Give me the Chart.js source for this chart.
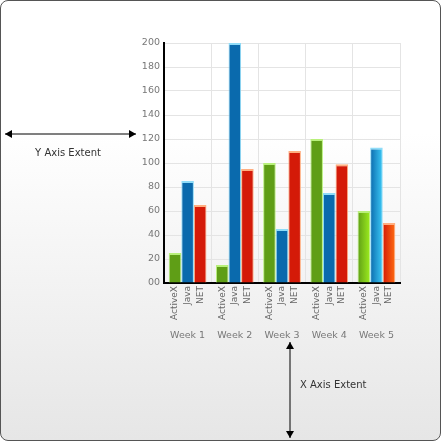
<!DOCTYPE html>
<html lang="en">
<head>
<meta charset="UTF-8">
<title>Axis Extent</title>
<script src="https://cdn.jsdelivr.net/npm/chart.js"></script>
<style>
  html, body { margin: 0; padding: 0; }
  .wrap {
    position: absolute; left: 0; top: 0; width: 439px; height: 439px;
    border: 1px solid #555; border-radius: 8px;
    background: linear-gradient(#ffffff 0%, #ffffff 30%, #e6e6e6 100%);
  }
  canvas { position: absolute; left: 0; top: 0; }
</style>
</head>
<body>
<div class="wrap"></div>
<canvas id="c" width="441" height="441"></canvas>
<script>
const weeks = ['Week 1', 'Week 2', 'Week 3', 'Week 4', 'Week 5'];
const seriesNames = ['ActiveX', 'Java', 'NET'];
const activeX = [25, 15, 100, 120, 60];
const java = [85, 200, 45, 75, 113];
const net = [65, 95, 110, 99, 50];
const yTicks = [0, 20, 40, 60, 80, 100, 120, 140, 160, 180, 200];

const shades = [
  ['#5f9e16', '#9ded1f', '#b8f07a'],
  ['#0a6aad', '#3ccaf7', '#8fdcf8'],
  ['#d41a08', '#ff6d12', '#ffae80']
];

const font = 'DejaVu Sans';

const extras = {
  id: 'extras',
  beforeDatasetsDraw(chart) {
    const c = chart.ctx;
    chart.data.datasets.forEach((ds, i) => {
      chart.getDatasetMeta(i).data.forEach(bar => {
        const g = c.createLinearGradient(bar.x - bar.width / 2, 0, bar.x + bar.width / 2, 0);
        g.addColorStop(0, shades[i][0]);
        g.addColorStop(1, shades[i][1]);
        bar.options.backgroundColor = g;
      });
    });
  },
  afterDatasetsDraw(chart) {
    const c = chart.ctx;
    c.save();
    c.fillStyle = '#666';
    c.font = '9px ' + font;
    c.textAlign = 'right';
    c.textBaseline = 'middle';
    chart.data.datasets.forEach((ds, i) => {
      chart.getDatasetMeta(i).data.forEach(bar => {
        c.save();
        c.translate(bar.x, chart.chartArea.bottom + 3);
        c.rotate(-Math.PI / 2);
        c.fillText(ds.label, 0, 0);
        c.restore();
      });
    });
    // annotations
    c.strokeStyle = '#000';
    c.fillStyle = '#000';
    c.lineWidth = 1;
    function arrowH(x1, x2, y) {
      c.beginPath(); c.moveTo(x1, y); c.lineTo(x2, y); c.stroke();
      [[x1, 1], [x2, -1]].forEach(([x, d]) => {
        c.beginPath(); c.moveTo(x, y); c.lineTo(x + 7 * d, y - 4); c.lineTo(x + 7 * d, y + 4); c.fill();
      });
    }
    function arrowV(x, y1, y2) {
      c.beginPath(); c.moveTo(x, y1); c.lineTo(x, y2); c.stroke();
      [[y1, 1], [y2, -1]].forEach(([y, d]) => {
        c.beginPath(); c.moveTo(x, y); c.lineTo(x - 4, y + 7 * d); c.lineTo(x + 4, y + 7 * d); c.fill();
      });
    }
    arrowH(5, 136, 134);
    arrowV(290, 342, 438);
    c.fillStyle = '#333';
    c.font = '10px ' + font;
    c.textAlign = 'center';
    c.fillText('Y Axis Extent', 68, 153);
    c.textAlign = 'left';
    c.fillText('X Axis Extent', 300, 385);
    c.restore();
  }
};

new Chart(document.getElementById('c'), {
  type: 'bar',
  data: {
    labels: weeks,
    datasets: [activeX, java, net].map((d, i) => ({
      label: seriesNames[i],
      data: d,
      backgroundColor: shades[i][1],
      borderColor: shades[i][2],
      borderWidth: { top: 2, left: 1, right: 1, bottom: 0 },
      borderSkipped: false,
      categoryPercentage: 0.8,
      barPercentage: 1
    }))
  },
  plugins: [extras],
  options: {
    responsive: false,
    animation: false,
    layout: { padding: { left: 120, right: -17, top: 43, bottom: 98 } },
    plugins: { legend: { display: false }, tooltip: { enabled: false } },
    scales: {
      x: {
        grid: { color: '#e4e4e4', offset: true, drawTicks: false },
        border: { color: '#000', width: 2 },
        ticks: { color: '#777', font: { family: font, size: 9.5 }, padding: 47 },
        afterFit(s) { s.height = 60; }
      },
      y: {
        min: 0, max: 200,
        afterBuildTicks(s) { s.ticks = yTicks.map(v => ({ value: v })); },
        afterFit(s) { s.width = 44; },
        grid: { color: '#e4e4e4', drawTicks: false },
        border: { color: '#000', width: 2 },
        ticks: {
          color: '#777', font: { family: font, size: 9.5 }, padding: 4,
          callback: v => v === 0 ? '00' : String(v)
        }
      }
    }
  }
});
</script>
</body>
</html>
